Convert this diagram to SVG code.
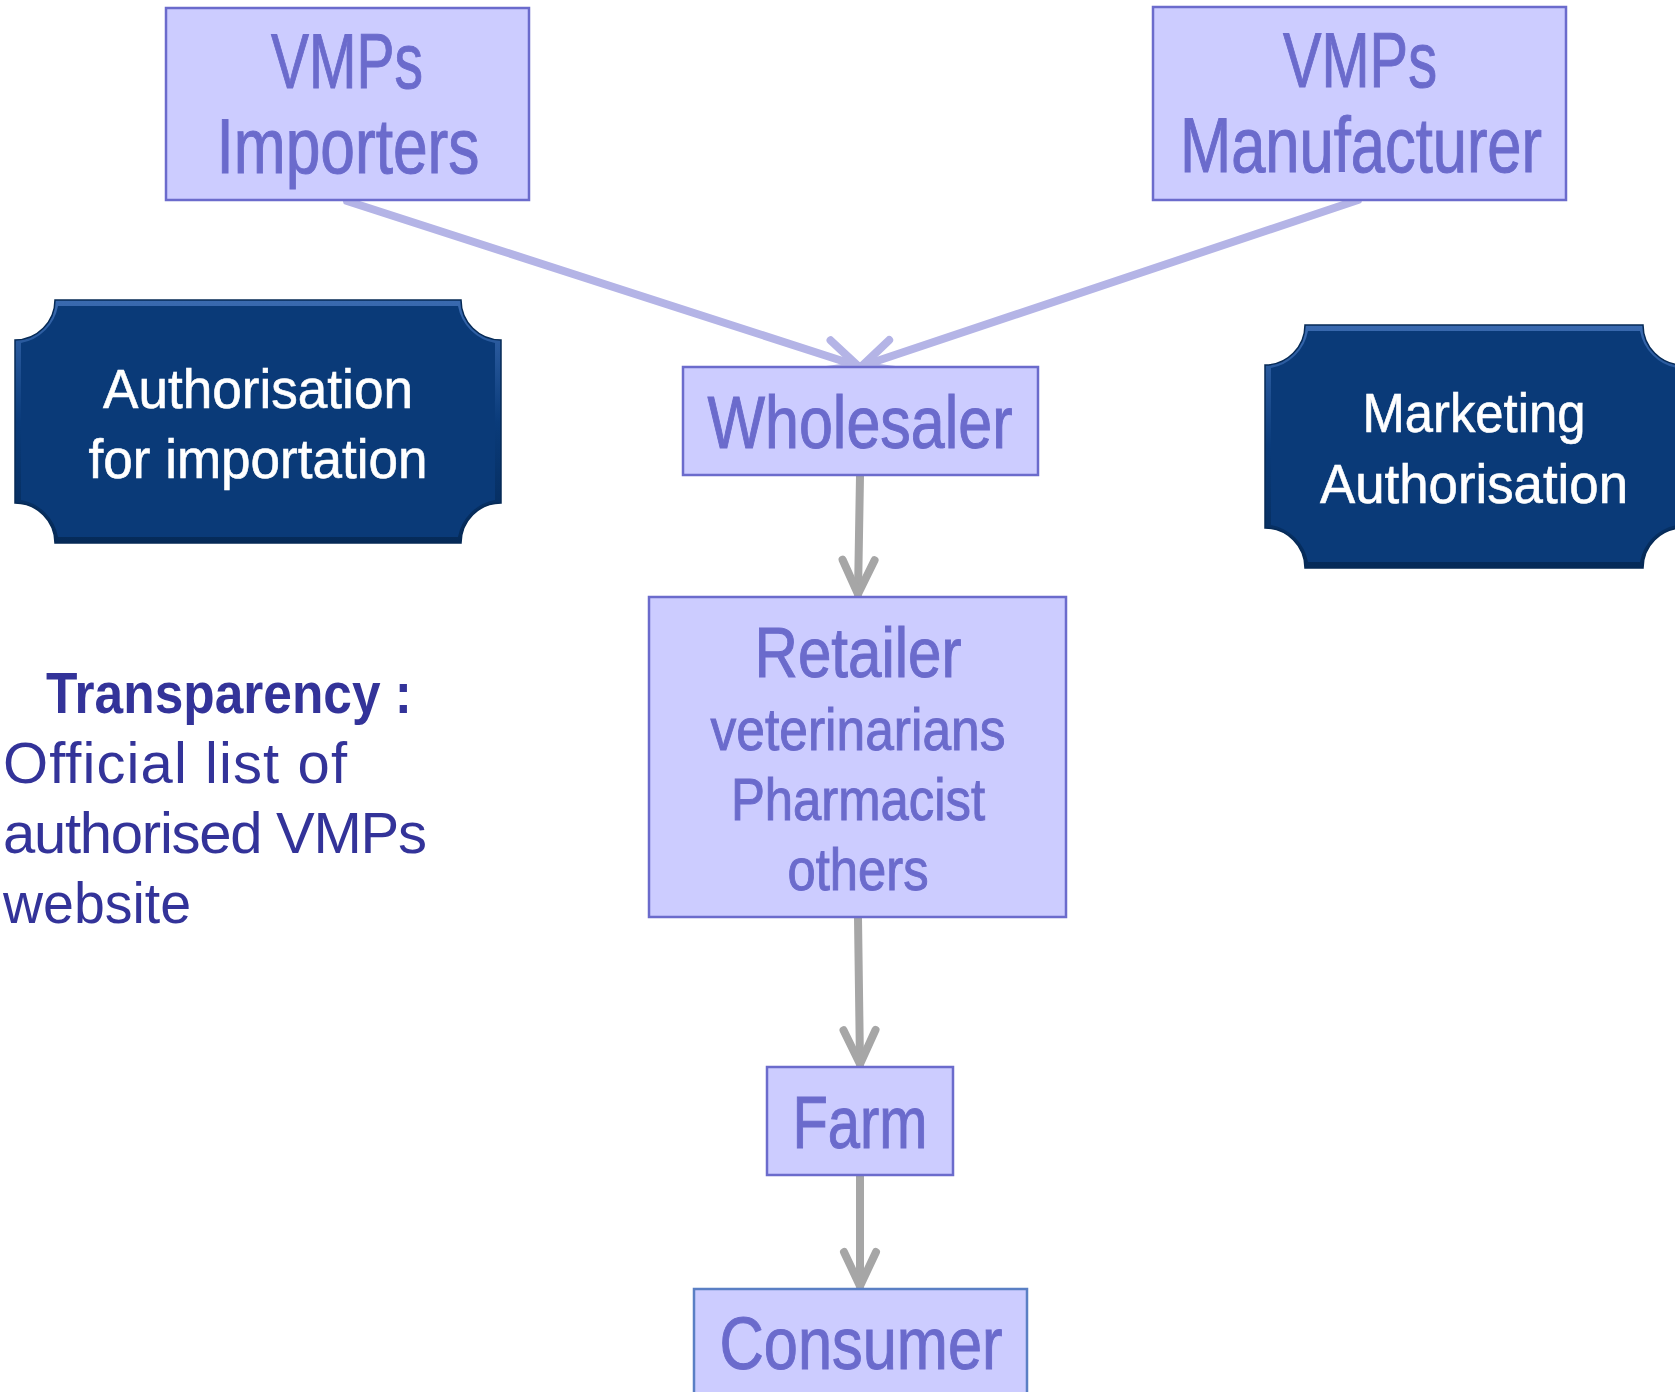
<svg xmlns="http://www.w3.org/2000/svg" width="1675" height="1392" viewBox="0 0 1675 1392">
  <style>
    .lbox { fill: #ccccff; stroke: #6b6bcc; stroke-width: 2.5; }
    .ltxt { font-family: "Liberation Sans Narrow", "Arial Narrow", "Liberation Sans", sans-serif; fill: #6b6bcc; stroke: #6b6bcc; stroke-width: 1; text-anchor: middle; }
    .dtxt { font-family: "Liberation Sans Narrow", "Arial Narrow", "Liberation Sans", sans-serif; fill: #ffffff; stroke: #ffffff; stroke-width: 0.6; text-anchor: middle; font-size: 56px; }
    .ttxt { font-family: "Liberation Sans", Arial, sans-serif; fill: #333399; font-size: 58px; }
    .pconn { stroke: #b4b4e6; stroke-width: 8; fill: none; stroke-linecap: round; }
    .gconn { stroke: #a6a6a6; stroke-width: 8; fill: none; stroke-linecap: round; }
  </style>
  <defs>
    <linearGradient id="bevel" x1="0" y1="0" x2="0" y2="1">
      <stop offset="0" stop-color="#3a6ab0"/>
      <stop offset="0.5" stop-color="#0a3b7a"/>
      <stop offset="1" stop-color="#052a58"/>
    </linearGradient>
    <marker id="ahP" markerUnits="userSpaceOnUse" markerWidth="60" markerHeight="60" viewBox="-45 -30 60 60" refX="0" refY="0" orient="auto" overflow="visible">
      <path d="M-34,-16 L0,0 L-34,16" fill="none" stroke="#b4b4e6" stroke-width="8" stroke-linecap="round" stroke-linejoin="round"/>
    </marker>
    <marker id="ahG" markerUnits="userSpaceOnUse" markerWidth="60" markerHeight="60" viewBox="-45 -30 60 60" refX="0" refY="0" orient="auto" overflow="visible">
      <path d="M-34,-16 L0,0 L-34,16" fill="none" stroke="#a6a6a6" stroke-width="8" stroke-linecap="round" stroke-linejoin="round"/>
    </marker>
  </defs>

  <g id="connectors">
    <line class="pconn" x1="347" y1="201" x2="858" y2="366" marker-end="url(#ahP)"/>
    <line class="pconn" x1="1358" y1="200" x2="862" y2="366" marker-end="url(#ahP)"/>
    <line class="gconn" x1="860" y1="476" x2="858" y2="594" marker-end="url(#ahG)"/>
    <line class="gconn" x1="858" y1="918" x2="860" y2="1064" marker-end="url(#ahG)"/>
    <line class="gconn" x1="860" y1="1176" x2="860" y2="1286" marker-end="url(#ahG)"/>
  </g>

  <g id="importers">
    <rect class="lbox" x="166" y="8" width="363" height="192"/>
    <text class="ltxt" font-size="78" x="347" y="88" textLength="152" lengthAdjust="spacingAndGlyphs">VMPs</text>
    <text class="ltxt" font-size="78" x="348" y="173" textLength="263" lengthAdjust="spacingAndGlyphs">Importers</text>
  </g>

  <g id="manufacturer">
    <rect class="lbox" x="1153" y="7" width="413" height="193"/>
    <text class="ltxt" font-size="78" x="1360" y="87" textLength="154" lengthAdjust="spacingAndGlyphs">VMPs</text>
    <text class="ltxt" font-size="78" x="1361" y="172" textLength="362" lengthAdjust="spacingAndGlyphs">Manufacturer</text>
  </g>

  <g id="auth-import">
    <path d="M55,300 L461,300 A40,40 0 0 0 501,340 L501,503 A40,40 0 0 0 461,543 L55,543 A40,40 0 0 0 15,503 L15,340 A40,40 0 0 0 55,300 Z" fill="url(#bevel)" stroke="#062a56" stroke-width="1.5"/>
    <path d="M58,306 L458,306 A46,46 0 0 0 495,343 L495,500 A46,46 0 0 0 458,537 L58,537 A46,46 0 0 0 21,500 L21,343 A46,46 0 0 0 58,306 Z" fill="#0a3a78"/>
    <text class="dtxt" x="258" y="408" textLength="310" lengthAdjust="spacingAndGlyphs">Authorisation</text>
    <text class="dtxt" x="258" y="478" textLength="339" lengthAdjust="spacingAndGlyphs">for importation</text>
  </g>

  <g id="marketing-auth">
    <path d="M1305,325 L1643,325 A40,40 0 0 0 1683,365 L1683,528 A40,40 0 0 0 1643,568 L1305,568 A40,40 0 0 0 1265,528 L1265,365 A40,40 0 0 0 1305,325 Z" fill="url(#bevel)" stroke="#062a56" stroke-width="1.5"/>
    <path d="M1308,331 L1640,331 A46,46 0 0 0 1677,368 L1677,525 A46,46 0 0 0 1640,562 L1308,562 A46,46 0 0 0 1271,525 L1271,368 A46,46 0 0 0 1308,331 Z" fill="#0a3a78"/>
    <text class="dtxt" x="1474" y="432" textLength="223" lengthAdjust="spacingAndGlyphs">Marketing</text>
    <text class="dtxt" x="1474" y="503" textLength="308" lengthAdjust="spacingAndGlyphs">Authorisation</text>
  </g>

  <g id="wholesaler">
    <rect class="lbox" x="683" y="367" width="355" height="108"/>
    <text class="ltxt" font-size="74" x="860" y="448" textLength="305" lengthAdjust="spacingAndGlyphs">Wholesaler</text>
  </g>

  <g id="retailer">
    <rect class="lbox" x="649" y="597" width="417" height="320"/>
    <text class="ltxt" font-size="70" x="858" y="677" textLength="207" lengthAdjust="spacingAndGlyphs">Retailer</text>
    <text class="ltxt" font-size="60" x="858" y="750" textLength="295" lengthAdjust="spacingAndGlyphs">veterinarians</text>
    <text class="ltxt" font-size="60" x="858" y="820" textLength="254" lengthAdjust="spacingAndGlyphs">Pharmacist</text>
    <text class="ltxt" font-size="60" x="858" y="890" textLength="141" lengthAdjust="spacingAndGlyphs">others</text>
  </g>

  <g id="farm">
    <rect class="lbox" x="767" y="1067" width="186" height="108"/>
    <text class="ltxt" font-size="74" x="860" y="1148" textLength="135" lengthAdjust="spacingAndGlyphs">Farm</text>
  </g>

  <g id="consumer">
    <rect class="lbox" x="694" y="1289" width="333" height="140" style="stroke:#5a7fc4"/>
    <text class="ltxt" font-size="74" x="861" y="1369" textLength="283" lengthAdjust="spacingAndGlyphs">Consumer</text>
  </g>

  <g id="transparency">
    <text class="ttxt" x="46" y="713" font-weight="bold" textLength="366" lengthAdjust="spacingAndGlyphs">Transparency :</text>
    <text class="ttxt" x="3" y="783" textLength="344" lengthAdjust="spacing">Official list of</text>
    <text class="ttxt" x="3" y="853" textLength="424" lengthAdjust="spacing">authorised VMPs</text>
    <text class="ttxt" x="3" y="923" textLength="188" lengthAdjust="spacingAndGlyphs">website</text>
  </g>
</svg>
